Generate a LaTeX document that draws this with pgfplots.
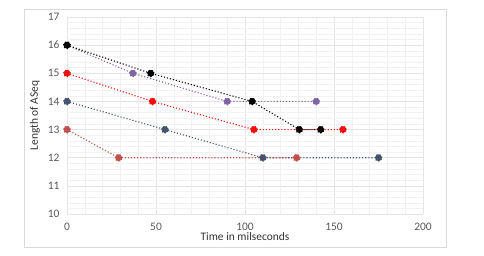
\documentclass[border=0pt]{standalone}
\usepackage{pgfplots}
\pgfplotsset{compat=1.18}
\usepackage{fontspec}
\setmainfont{Carlito}
\definecolor{cpurple}{HTML}{8064A2}
\definecolor{cred}{HTML}{F01010}
\definecolor{cnavy}{HTML}{44546A}
\definecolor{cpink}{HTML}{C0504D}
\definecolor{ctick}{HTML}{595959}
\begin{document}
\begin{tikzpicture}[x=1bp,y=1bp]
\path[fill=white] (0,0) rectangle (484,255);
\draw[color=black!15, line width=0.8bp] (24,8) rectangle (446,246);
\begin{axis}[
  at={(67bp,41bp)}, anchor=south west,
  scale only axis, width=356bp, height=197bp,
  xmin=0, xmax=200, ymin=10, ymax=17,
  xtick={0,50,100,150,200}, ytick={10,11,...,17},
  minor x tick num=4, minor y tick num=4,
  grid=both,
  major grid style={color=black!10, line width=0.6bp},
  minor grid style={color=black!5, line width=0.4bp},
  axis line style={draw=none},
  major tick length=0pt, minor tick length=0pt,
  tick label style={font=\fontsize{11.5}{13}\selectfont, color=ctick},
  /pgf/number format/assume math mode=true,
  xticklabel style={yshift=-6bp},
  yticklabel style={xshift=-4bp},
  xlabel={Time in milseconds},
  ylabel={Length of ASeq},
  label style={font=\fontsize{11.5}{13}\selectfont, color=black!80},
  xlabel style={at={(axis description cs:0.5,0)}, anchor=center, yshift=-23bp},
  ylabel style={at={(axis description cs:-0.09,0.5)}, anchor=center},
  clip=false,
  every axis plot/.append style={line width=1.1bp, dotted, mark=*, mark size=3.4bp, mark options={solid}},
]
\addplot[color=cpurple, mark options={fill=cpurple, draw=cpurple}] coordinates {(0,16) (37,15) (90,14) (140,14)};
\addplot[color=cnavy, mark options={fill=cnavy, draw=cnavy}] coordinates {(0,14) (55,13) (110,12) (175,12)};
\addplot[color=cpink, mark options={fill=cpink, draw=cpink}] coordinates {(0,13) (29,12) (129,12)};
\addplot[color=cred, mark options={fill=cred, draw=cred}] coordinates {(0,15) (48,14) (105,13) (155,13)};
\addplot[color=black, mark options={fill=black, draw=black}] coordinates {(0,16) (47,15) (104,14) (130.5,13) (142.5,13)};
\end{axis}
\end{tikzpicture}
\end{document}
